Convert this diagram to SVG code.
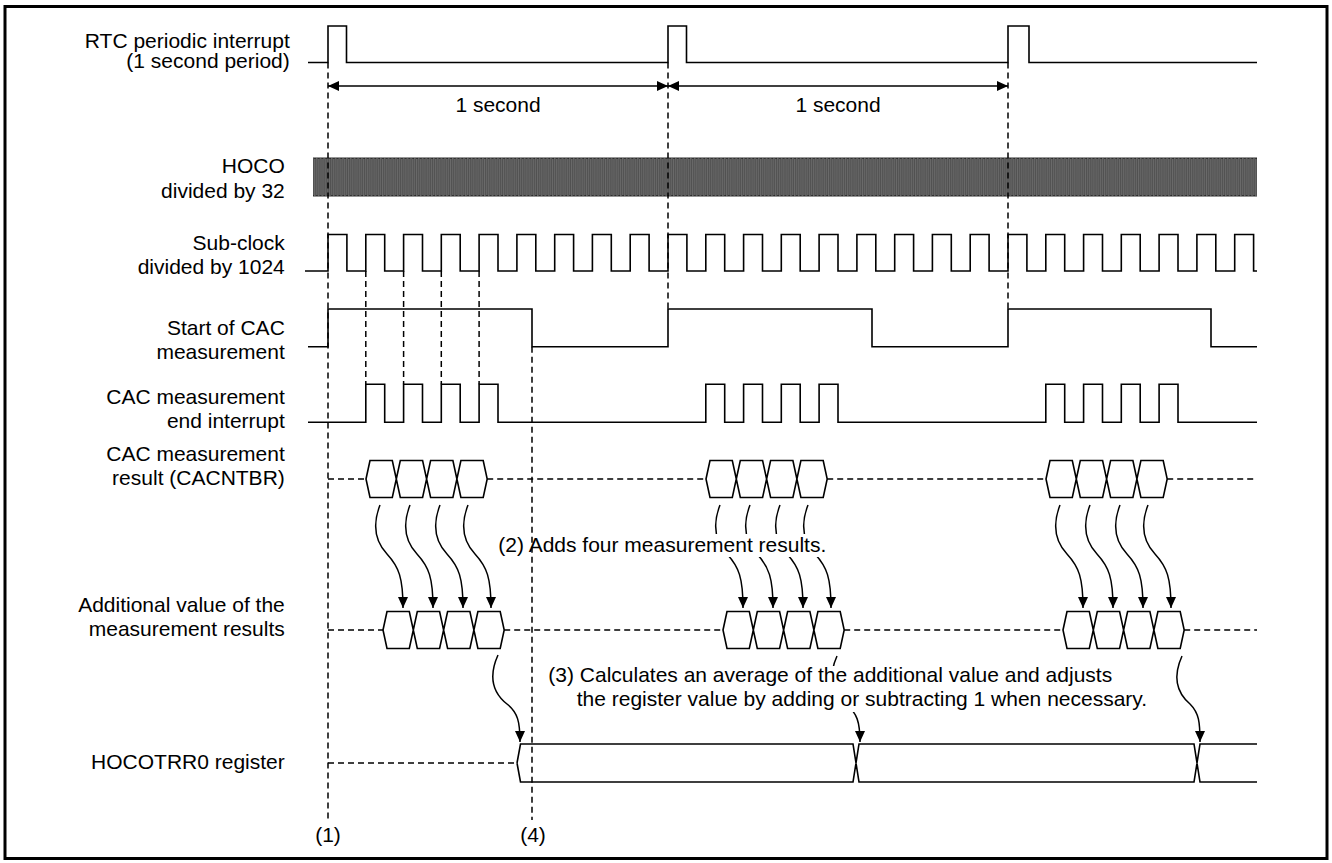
<svg xmlns="http://www.w3.org/2000/svg" xmlns:xlink="http://www.w3.org/1999/xlink" width="1332" height="863" viewBox="0 0 1332 863">
<style>
.sig{fill:none;stroke:#000;stroke-width:1.6}
.dash{fill:none;stroke:#000;stroke-width:1.5;stroke-dasharray:6 4}
.hex{fill:#fff;stroke:#000;stroke-width:1.6;stroke-linejoin:miter}
.arr{fill:none;stroke:#000;stroke-width:1.5;marker-end:url(#ah)}
.dim{fill:none;stroke:#000;stroke-width:1.5;marker-start:url(#ah2);marker-end:url(#ah)}
text{font-family:"Liberation Sans",Arial,sans-serif;font-size:21px;fill:#000}
.lbl{text-anchor:end}
.mid{text-anchor:middle}
</style>
<defs>
<marker id="ah" viewBox="0 0 11 10" refX="11" refY="5" markerWidth="11" markerHeight="10" markerUnits="userSpaceOnUse" orient="auto"><path d="M0,0 L11,5 L0,10 Z" fill="#000"/></marker>
<marker id="ah2" viewBox="0 0 11 10" refX="0" refY="5" markerWidth="11" markerHeight="10" markerUnits="userSpaceOnUse" orient="auto"><path d="M11,0 L0,5 L11,10 Z" fill="#000"/></marker>
<pattern id="hoco" patternUnits="userSpaceOnUse" x="313" y="157.5" width="3.78" height="39"><path d="M0,38.5 H0.9 V0.5 H2.8 V38.5 H3.78" fill="none" stroke="#000" stroke-width="1.2"/></pattern>
<path id="hex4" class="hex" d="M0,0 L4,-18.5 L26.3,-18.5 L30.3,0 L26.3,18.5 L4,18.5 Z M30.3,0 L34.3,-18.5 L56.6,-18.5 L60.6,0 L56.6,18.5 L34.3,18.5 Z M60.6,0 L64.6,-18.5 L86.9,-18.5 L90.9,0 L86.9,18.5 L64.6,18.5 Z M90.9,0 L94.9,-18.5 L117.2,-18.5 L121.2,0 L117.2,18.5 L94.9,18.5 Z"/>
<g id="arr4">
<path class="arr" d="M0,0 C-7,18 -6,35 7,49 C19,62 23,73 23,103"/>
<path class="arr" d="M30,0 C23,18 24,35 37,49 C49,62 53,73 53,103"/>
<path class="arr" d="M60,0 C53,18 54,35 67,49 C79,62 83,73 83,103"/>
<path class="arr" d="M88,0 C81,18 82,35 95,49 C107,62 111,73 111,103"/>
</g>
</defs>
<rect x="0" y="0" width="1332" height="863" fill="#fff"/>
<rect id="frame" x="5" y="6.5" width="1322" height="852" fill="none" stroke="#000" stroke-width="3"/>

<g id="labels">
<text class="lbl" x="289.8" y="47.5">RTC periodic interrupt</text>
<text class="lbl" x="289.8" y="67.5">(1 second period)</text>
<text class="lbl" x="284.8" y="173">HOCO</text>
<text class="lbl" x="284.8" y="198">divided by 32</text>
<text class="lbl" x="284.8" y="249.5">Sub-clock</text>
<text class="lbl" x="284.8" y="273.5">divided by 1024</text>
<text class="lbl" x="284.8" y="335">Start of CAC</text>
<text class="lbl" x="284.8" y="358.5">measurement</text>
<text class="lbl" x="284.8" y="404">CAC measurement</text>
<text class="lbl" x="284.8" y="427.5">end interrupt</text>
<text class="lbl" x="284.8" y="461">CAC measurement</text>
<text class="lbl" x="284.8" y="485">result (CACNTBR)</text>
<text class="lbl" x="284.8" y="612">Additional value of the</text>
<text class="lbl" x="284.8" y="636">measurement results</text>
<text class="lbl" x="284.8" y="769">HOCOTRR0 register</text>
</g>

<g id="guides">
<path class="dash" d="M328,62.5 V820"/>
<path class="dash" d="M668,62.5 V309"/>
<path class="dash" d="M1008,62.5 V309"/>
<path class="dash" d="M365.8,271 V384.3 M403.6,271 V384.3 M441.3,271 V384.3 M479.1,271 V384.3"/>
<path class="dash" d="M532,346.7 V820"/>
</g>

<g id="rtc">
<path class="sig" d="M308,62.5 H328 V26 H346.5 V62.5 H668 V26 H686.5 V62.5 H1008 V26 H1029 V62.5 H1257"/>
<path class="dim" d="M328,86 H668"/>
<path class="dim" d="M668,86 H1008"/>
<text class="mid" x="498" y="111.7">1 second</text>
<text class="mid" x="838" y="111.7">1 second</text>
</g>

<g id="hoco-clk">
<rect x="313" y="157.5" width="944" height="39" fill="url(#hoco)"/>
</g>

<g id="subclock">
<path class="sig" d="M305,271 H328 V234.5 H346.9 V271 H365.8 V234.5 H384.7 V271 H403.6 V234.5 H422.5 V271 H441.3 V234.5 H460.2 V271 H479.1 V234.5 H498 V271 H516.9 V234.5 H535.8 V271 H554.7 V234.5 H573.6 V271 H592.4 V234.5 H611.3 V271 H630.2 V234.5 H649.1 V271 H668 V234.5 H686.9 V271 H705.8 V234.5 H724.7 V271 H743.6 V234.5 H762.5 V271 H781.3 V234.5 H800.2 V271 H819.1 V234.5 H838 V271 H856.9 V234.5 H875.8 V271 H894.7 V234.5 H913.6 V271 H932.4 V234.5 H951.3 V271 H970.2 V234.5 H989.1 V271 H1008 V234.5 H1026.9 V271 H1045.8 V234.5 H1064.7 V271 H1083.6 V234.5 H1102.5 V271 H1121.3 V234.5 H1140.2 V271 H1159.1 V234.5 H1178 V271 H1196.9 V234.5 H1215.8 V271 H1234.7 V234.5 H1253.6 V271 H1257"/>
</g>

<g id="cac-start">
<path class="sig" d="M308,346.7 H328 V309 H532 V346.7 H668 V309 H872 V346.7 H1008 V309 H1211 V346.7 H1257"/>
</g>

<g id="cac-end">
<path class="sig" d="M308,422.3 H365.8 V384.3 H384.7 V422.3 H403.6 V384.3 H422.5 V422.3 H441.3 V384.3 H460.2 V422.3 H479.1 V384.3 H498 V422.3 H705.8 V384.3 H724.7 V422.3 H743.6 V384.3 H762.5 V422.3 H781.3 V384.3 H800.2 V422.3 H819.1 V384.3 H838 V422.3 H1045.8 V384.3 H1064.7 V422.3 H1083.6 V384.3 H1102.5 V422.3 H1121.3 V384.3 H1140.2 V422.3 H1159.1 V384.3 H1178 V422.3 H1257"/>
</g>

<g id="cacntbr">
<path class="dash" d="M328,479 H366 M487.2,479 H706 M827.2,479 H1046 M1167.2,479 H1257"/>
<use xlink:href="#hex4" transform="translate(366,479)"/>
<use xlink:href="#hex4" transform="translate(706,479)"/>
<use xlink:href="#hex4" transform="translate(1046,479)"/>
</g>

<g id="addval">
<path class="dash" d="M328,630 H383 M504.2,630 H723 M844.2,630 H1063 M1184.2,630 H1257"/>
<use xlink:href="#hex4" transform="translate(383,630)"/>
<use xlink:href="#hex4" transform="translate(723,630)"/>
<use xlink:href="#hex4" transform="translate(1063,630)"/>
</g>

<g id="hocotrr0">
<path class="dash" d="M328,763 H517"/>
<path class="sig" d="M517,763 L520.5,744 H853 L859,782 H1194 L1200,744 H1257 M517,763 L520.5,782 H853 L859,744 H1194 L1200,782 H1257"/>
</g>

<g id="connectors">
<use xlink:href="#arr4" transform="translate(380,505)"/>
<use xlink:href="#arr4" transform="translate(720,505)"/>
<use xlink:href="#arr4" transform="translate(1060,505)"/>
<path class="arr" d="M498,655 C489,675 492,692 507,704 C518,713 520,722 520,742"/>
<path class="arr" d="M837,656 C828,676 831,692 846,704 C857,713 860,722 860,742"/>
<path class="arr" d="M1182,656 C1173,676 1176,692 1190,704 C1199,713 1200,722 1200,742"/>
</g>

<g id="notes">
<rect x="712" y="534" width="124" height="23" fill="#fff"/>
<text x="498.3" y="552.3">(2) Adds four measurement results.</text>
<rect x="826" y="666" width="40" height="46" fill="#fff"/>
<text x="548.3" y="682.3">(3) Calculates an average of the additional value and adjusts</text>
<text x="576.7" y="706">the register value by adding or subtracting 1 when necessary.</text>
<text class="mid" x="328" y="842">(1)</text>
<text class="mid" x="533" y="842">(4)</text>
</g>
</svg>
